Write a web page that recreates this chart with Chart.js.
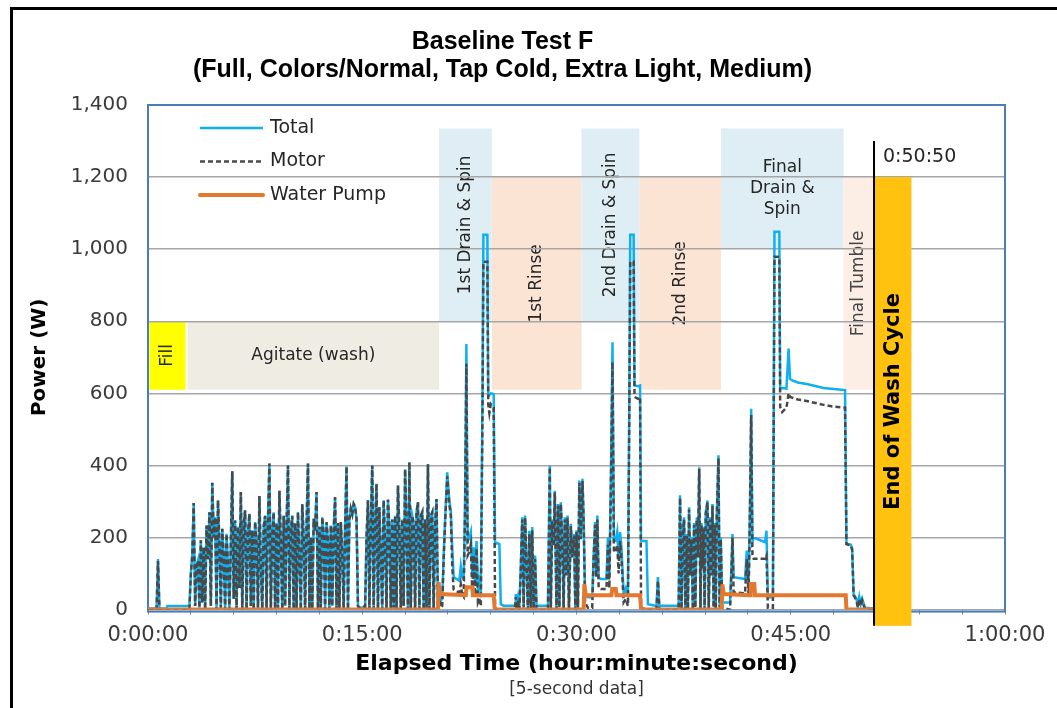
<!DOCTYPE html>
<html>
<head>
<meta charset="utf-8">
<title>Baseline Test F</title>
<script src="https://cdn.jsdelivr.net/npm/chart.js@4.4.1/dist/chart.umd.min.js"></script>
<style>
  html, body { margin: 0; padding: 0; background: #fff; overflow: hidden; }
  #wrap { position: relative; width: 1057px; height: 708px; }
  #frame { position: absolute; left: 10px; top: 7px; width: 1100px; height: 800px;
           border-top: 3px solid #000; border-left: 3px solid #000; pointer-events: none; }
</style>
</head>
<body>
<div id="wrap">
  <canvas id="washChart"></canvas>
  <div id="frame"></div>
</div>
<script>
// elapsed time (minutes) shared by Total and Motor
const elapsedMin = [
  0, 0.6, 0.7, 0.8, 1.3, 1.35, 2.9,
  3.0, 3.1, 3.2, 3.3, 3.4, 3.5, 3.6, 3.7, 3.8, 3.9,
  4.0, 4.1, 4.2, 4.3, 4.4, 4.5, 4.6, 4.7, 4.8, 4.9,
  5.0, 5.1, 5.2, 5.3, 5.4, 5.5, 5.6, 5.7, 5.8, 5.9,
  6.0, 6.1, 6.2, 6.3, 6.4, 6.5, 6.6, 6.7, 6.8, 6.9,
  7.0, 7.1, 7.2, 7.3, 7.4, 7.5, 7.6, 7.7, 7.8, 7.9,
  8.0, 8.1, 8.2, 8.3, 8.4, 8.5, 8.6, 8.7, 8.8, 8.9,
  9.0, 9.1, 9.2, 9.3, 9.4, 9.5, 9.6, 9.7, 9.8, 9.9,
  10.0, 10.1, 10.2, 10.3, 10.4, 10.5, 10.6, 10.7, 10.8, 10.9,
  11.0, 11.1, 11.2, 11.3, 11.4, 11.5, 11.6, 11.7, 11.8, 11.9,
  12.0, 12.1, 12.2, 12.3, 12.4, 12.5, 12.6, 12.7, 12.8, 12.9,
  13.0, 13.1, 13.2, 13.3, 13.4, 13.5, 13.6, 13.7, 13.8, 13.9,
  14.0, 14.1, 14.2, 14.3, 14.4, 14.5, 14.6, 14.7, 14.8, 14.9,
  15.0, 15.1, 15.2, 15.3, 15.4, 15.5, 15.6, 15.7, 15.8, 15.9,
  16.0, 16.1, 16.2, 16.3, 16.4, 16.5, 16.6, 16.7, 16.8, 16.9,
  17.0, 17.1, 17.2, 17.3, 17.4, 17.5, 17.6, 17.7, 17.8, 17.9,
  18.0, 18.1, 18.2, 18.3, 18.4, 18.5, 18.6, 18.7, 18.8, 18.9,
  19.0, 19.1, 19.2, 19.3, 19.4, 19.5, 19.6, 19.7, 19.8, 19.9,
  20.0, 20.1, 20.2, 20.3,
  20.4, 20.5, 20.6, 20.7, 20.8, 20.95, 21.1, 21.2, 21.3, 21.4,
  21.6, 21.8, 21.9, 22.0, 22.1, 22.2, 22.29, 22.38, 22.5, 22.6,
  22.7, 22.8, 22.9, 23.0, 23.1, 23.2, 23.3, 23.42, 23.48, 23.76,
  23.82, 23.9, 24.0, 24.2, 24.3, 24.4, 24.6, 24.7, 24.9, 25.7,
  25.75, 25.8, 25.9, 26.0, 26.1, 26.2, 26.3, 26.4, 26.5, 26.6,
  26.7, 26.8, 26.9, 27.0, 27.1, 27.2, 28.0, 28.13, 28.2, 28.3,
  28.4, 28.48, 28.6, 28.71, 28.8, 28.9, 29.0, 29.1, 29.18, 29.28,
  29.37, 29.47, 29.6, 29.7, 29.83, 29.92, 30.0, 30.1, 30.2, 30.3,
  30.42, 30.5, 30.6, 30.8, 31.1, 31.2, 31.3, 31.38, 31.46, 31.55,
  31.7, 32.1, 32.2, 32.3, 32.42, 32.52, 32.62, 32.75, 32.85, 32.95,
  33.05, 33.15, 33.3, 33.45, 33.6, 33.7, 33.76, 34.0, 34.06, 34.3,
  34.45, 34.52, 34.9, 35.0, 35.6, 35.7, 35.8, 37.15, 37.25, 37.35,
  37.45, 37.53, 37.62, 37.72, 37.8, 37.88, 37.97, 38.05, 38.15, 38.23,
  38.32, 38.42, 38.5, 38.59, 38.68, 38.75, 38.82, 38.89, 38.97, 39.05,
  39.17, 39.26, 39.36, 39.44, 39.52, 39.6, 39.68, 39.75, 39.82, 39.94,
  40.02, 40.1, 40.2, 40.75, 40.85, 40.92, 41.0, 41.8, 41.92, 42.05,
  42.15, 42.23, 42.32, 42.4, 43.2, 43.3, 43.4, 43.75, 43.86, 44.2,
  44.26, 44.4, 44.7, 44.85, 44.95, 45.1, 45.5, 46.2, 47.3, 48.0,
  48.8, 48.9, 49.2, 49.3, 49.4, 49.6, 49.7, 49.8, 49.9, 50.0,
  50.2, 50.8
];

const totalW = [
  3, 3, 140, 3, 3, 10, 10,
  100, 150, 296, 10, 120, 136, 5, 192, 20, 173,
  0, 233, 140, 270, 10, 352, 200, 256, 0, 303,
  180, 5, 224, 150, 0, 210, 120, 0, 180, 384,
  30, 247, 0, 230, 60, 326, 0, 240, 275, 0,
  210, 266, 10, 220, 0, 243, 180, 5, 315, 120,
  0, 230, 260, 0, 250, 405, 0, 210, 270, 0,
  240, 5, 330, 180, 0, 260, 10, 230, 400, 0,
  220, 260, 0, 240, 0, 270, 140, 0, 292, 200,
  0, 230, 405, 0, 200, 0, 252, 220, 326, 0,
  230, 5, 256, 210, 0, 243, 190, 0, 233, 10,
  220, 312, 0, 240, 0, 243, 160, 0, 230, 397,
  0, 250, 280, 265, 293, 285, 252, 10, 5, 5,
  5, 8, 8, 200, 303, 0, 240, 400, 0, 230,
  349, 0, 284, 150, 0, 303, 180, 0, 305, 230,
  0, 250, 5, 260, 0, 344, 220, 0, 250, 10,
  389, 230, 0, 409, 0, 260, 240, 0, 270, 298,
  0, 260, 270, 0, 250, 5, 403, 0, 260, 270,
  0, 230, 307, 10,
  60, 25, 30, 150, 250, 381, 300, 275, 173, 90,
  85, 80, 120, 90, 85, 300, 737, 190, 200, 215,
  95, 173, 71, 190, 60, 80, 40, 600, 1040, 1040,
  600, 595, 600, 598, 182, 185, 182, 15, 11, 11,
  43, 11, 34, 11, 120, 256, 10, 261, 130, 0,
  219, 10, 229, 0, 150, 11, 11, 400, 0, 250,
  180, 330, 0, 293, 10, 298, 200, 0, 256, 100,
  261, 0, 238, 150, 210, 0, 220, 10, 358, 200,
  363, 250, 40, 34, 34, 150, 243, 100, 261, 90,
  85, 85, 200, 90, 400, 742, 191, 191, 215, 136,
  215, 173, 43, 60, 40, 600, 1040, 1040, 622, 620,
  622, 190, 190, 15, 10, 90, 11, 11, 317, 0,
  220, 256, 0, 210, 5, 284, 100, 200, 0, 240,
  10, 256, 150, 395, 0, 240, 120, 230, 0, 270,
  303, 0, 256, 100, 293, 10, 240, 0, 260, 428,
  10, 200, 20, 20, 120, 210, 90, 85, 164, 60,
  300, 557, 190, 200, 187, 219, 34, 34, 1048, 1048,
  613, 615, 613, 724, 640, 636, 630, 625, 615, 612,
  609, 182, 180, 170, 43, 30, 10, 35, 15, 30,
  5, 3
];

const motorW = [
  0, 0, 135, 0, 0, 0, 0,
  100, 150, 296, 10, 120, 136, 5, 192, 20, 173,
  0, 233, 140, 270, 10, 352, 200, 256, 0, 303,
  180, 5, 224, 150, 0, 210, 120, 0, 180, 384,
  30, 247, 0, 230, 60, 326, 0, 240, 275, 0,
  210, 266, 10, 220, 0, 243, 180, 5, 315, 120,
  0, 230, 260, 0, 250, 405, 0, 210, 270, 0,
  240, 5, 330, 180, 0, 260, 10, 230, 400, 0,
  220, 260, 0, 240, 0, 270, 140, 0, 292, 200,
  0, 230, 405, 0, 200, 0, 252, 220, 326, 0,
  230, 5, 256, 210, 0, 243, 190, 0, 233, 10,
  220, 312, 0, 240, 0, 243, 160, 0, 230, 397,
  0, 250, 280, 265, 293, 285, 252, 10, 5, 5,
  5, 8, 8, 200, 303, 0, 240, 400, 0, 230,
  349, 0, 284, 150, 0, 303, 180, 0, 305, 230,
  0, 250, 5, 260, 0, 344, 220, 0, 250, 10,
  389, 230, 0, 409, 0, 260, 240, 0, 270, 298,
  0, 260, 270, 0, 250, 5, 403, 0, 260, 270,
  0, 230, 307, 10,
  30, 5, 10, 140, 240, 370, 290, 260, 120, 55,
  50, 48, 70, 40, 35, 280, 682, 150, 160, 180,
  50, 150, 40, 170, 20, 30, 10, 550, 965, 965,
  570, 545, 570, 560, 5, 0, 0, 0, 0, 0,
  35, 0, 25, 0, 110, 250, 5, 255, 120, 0,
  210, 0, 220, 0, 140, 0, 0, 395, 0, 245,
  175, 325, 0, 288, 5, 293, 195, 0, 250, 95,
  255, 0, 232, 145, 205, 0, 215, 5, 352, 195,
  357, 245, 20, 5, 5, 140, 235, 90, 250, 60,
  57, 57, 180, 60, 380, 687, 160, 160, 180, 100,
  190, 140, 20, 30, 10, 560, 965, 965, 590, 585,
  590, 5, 0, 0, 0, 80, 0, 0, 310, 0,
  215, 250, 0, 205, 0, 278, 95, 195, 0, 235,
  5, 250, 145, 390, 0, 235, 115, 225, 0, 265,
  298, 0, 250, 95, 288, 5, 235, 0, 255, 420,
  5, 195, 5, 0, 110, 200, 48, 45, 140, 40,
  290, 540, 145, 141, 141, 150, 5, 5, 979, 979,
  562, 548, 560, 600, 590, 588, 583, 578, 568, 563,
  560, 182, 178, 165, 40, 25, 5, 30, 10, 25,
  0, 0
];

const pumpMin = [0, 20.3, 20.35, 20.42, 22.25, 22.3, 22.7, 22.75, 24.2, 24.28,
                 30.5, 30.55, 30.65, 32.45, 32.5, 32.75, 32.8, 34.45, 34.52,
                 40.15, 40.22, 40.3, 42.15, 42.2, 42.45, 42.5, 48.85, 48.9, 50.8];
const pumpW = [0, 0, 76, 43, 40, 62, 62, 40, 40, 0,
               0, 71, 40, 40, 57, 57, 40, 40, 0,
               0, 70, 43, 40, 71, 71, 40, 40, 0, 0];

const xTickLabels = ['0:00:00', '0:15:00', '0:30:00', '0:45:00', '1:00:00'];

// shaded phases: time span (min) and power span (W)
const phaseNames = ['Fill', 'Agitate (wash)', '1st Drain & Spin', '1st Rinse', '2nd Drain & Spin',
                    '2nd Rinse', 'Final\nDrain &\nSpin', 'Final Tumble', 'End of Wash Cycle'];
const phaseStartMin = [0.1, 2.77, 20.38, 24.07, 30.36, 34.4, 40.12, 48.7, 50.83];
const phaseEndMin = [2.63, 20.38, 24.07, 30.36, 34.4, 40.12, 48.7, 50.83, 53.45];
const phaseLowW = [610, 610, 800, 610, 800, 610, 1000, 610, -45];
const phaseHighW = [800, 800, 1335, 1200, 1335, 1200, 1335, 1200, 1200];

const cycleEndMin = 50.83;
const cycleEndLabel = '0:50:50';

// styles for the phase boxes
const phaseFill = ['#ffff00', '#eeece3', '#deeef4', '#fce4d5', '#deeef4', '#fce4d5', '#deeef4', '#fdeee5', '#ffc20e'];
const phaseVertical = [true, false, true, true, true, true, false, true, true];

function toPoints(xs, ys) {
    return xs.map((v, i) => ({ x: v, y: ys[i] }));
}

function drawText(ctx, text, cx, cy, vertical, font, color) {
    ctx.save();
    ctx.translate(cx, cy);
    if (vertical) ctx.rotate(-Math.PI / 2);
    ctx.font = font;
    ctx.fillStyle = color;
    ctx.textAlign = "center";
    ctx.textBaseline = "middle";
    const lines = text.split("\n");
    lines.forEach((ln, i) => ctx.fillText(ln, 0, (i - (lines.length - 1) / 2) * 21));
    ctx.restore();
}

const washPhases = {
    id: "washPhases",
    beforeDraw(chart) {
        const { ctx, scales: { x, y } } = chart;
        for (let i = 0; i < phaseNames.length - 1; i++) {
            const x1 = x.getPixelForValue(phaseStartMin[i]);
            const x2 = x.getPixelForValue(phaseEndMin[i]);
            const y1 = y.getPixelForValue(phaseHighW[i]);
            const y2 = y.getPixelForValue(phaseLowW[i]);
            ctx.save();
            ctx.fillStyle = phaseFill[i];
            ctx.fillRect(x1, y1, x2 - x1, y2 - y1);
            ctx.restore();
            drawText(ctx, phaseNames[i], (x1 + x2) / 2, (y1 + y2) / 2, phaseVertical[i],
                '17px "DejaVu Sans"', i === 7 ? "#444" : "#262626");
        }
    },
    beforeDatasetsDraw(chart) {
        const { ctx, chartArea: a } = chart;
        ctx.save();
        ctx.strokeStyle = "#4a7ebb";
        ctx.lineWidth = 2;
        ctx.strokeRect(a.left, a.top, a.right - a.left, a.bottom - a.top + 2);
        ctx.restore();
    },
    afterDatasetsDraw(chart) {
        const { ctx, chartArea: a, scales: { x, y } } = chart;
        const k = phaseNames.length - 1;
        const x1 = x.getPixelForValue(phaseStartMin[k]);
        const x2 = x.getPixelForValue(phaseEndMin[k]);
        const y1 = y.getPixelForValue(phaseHighW[k]);
        const y2 = y.getPixelForValue(phaseLowW[k]);
        ctx.save();
        ctx.fillStyle = phaseFill[k];
        ctx.fillRect(x1, y1, x2 - x1, y2 - y1);
        ctx.restore();
        drawText(ctx, phaseNames[k], (x1 + x2) / 2 + 1, (y1 + y2) / 2, true, 'bold 21px "DejaVu Sans"', "#000");

        // end of cycle marker
        const xe = x.getPixelForValue(cycleEndMin);
        ctx.save();
        ctx.strokeStyle = "#000";
        ctx.lineWidth = 2;
        ctx.beginPath();
        ctx.moveTo(xe, y.getPixelForValue(1300));
        ctx.lineTo(xe, y.getPixelForValue(-45));
        ctx.stroke();
        ctx.font = '19px "DejaVu Sans"';
        ctx.fillStyle = "#262626";
        ctx.textAlign = "left";
        ctx.textBaseline = "middle";
        ctx.fillText(cycleEndLabel, xe + 9, y.getPixelForValue(1256));

        // legend inside the plot
        const lx = a.left + 52;
        const ly = a.top + 23;
        ctx.font = '19px "DejaVu Sans"';
        chart.data.datasets.forEach((ds, i) => {
            const yy = ly + i * 33.5;
            ctx.beginPath();
            ctx.strokeStyle = ds.borderColor;
            ctx.lineWidth = ds.borderWidth;
            ctx.lineCap = i === 2 ? "round" : "butt";
            ctx.setLineDash(ds.borderDash || []);
            ctx.moveTo(lx, yy);
            ctx.lineTo(lx + 63, yy);
            ctx.stroke();
            ctx.setLineDash([]);
            ctx.fillStyle = "#262626";
            ctx.fillText(ds.label, lx + 70, yy);
        });
        ctx.restore();
    }
};

new Chart(document.getElementById("washChart"), {
    type: "line",
    data: {
        datasets: [
            {
                label: "Total",
                data: toPoints(elapsedMin, totalW),
                borderColor: "#0fb0f0",
                borderWidth: 2.5,
                order: 3,
            },
            {
                label: "Motor",
                data: toPoints(elapsedMin, motorW),
                borderColor: "#484848",
                borderWidth: 2.5,
                borderDash: [5, 3],
                order: 2,
            },
            {
                label: "Water Pump",
                data: toPoints(pumpMin, pumpW),
                borderColor: "#e3782e",
                borderWidth: 4,
                order: 1,
            },
        ],
    },
    options: {
        responsive: true,
        maintainAspectRatio: false,
        animation: false,
        events: [],
        elements: { point: { radius: 0 }, line: { tension: 0 } },
        layout: { padding: { left: 0, right: 52, top: 0, bottom: 0 } },
        plugins: {
            legend: { display: false },
            tooltip: { enabled: false },
            title: {
                display: true,
                text: ["Baseline Test F", "(Full, Colors/Normal, Tap Cold, Extra Light, Medium)"],
                color: "#000",
                font: { family: "Liberation Sans", size: 25, weight: "bold", lineHeight: 1.12 },
                padding: { top: 28, bottom: 21 },
            },
            subtitle: {
                display: true,
                text: "[5-second data]",
                position: "bottom",
                fullSize: false,
                color: "#333",
                font: { family: "DejaVu Sans", size: 17, lineHeight: 1.2 },
                padding: { top: 0, bottom: 8 },
            },
        },
        scales: {
            x: {
                type: "linear",
                min: 0,
                max: 60,
                afterFit: (scale) => { scale.height = 70; },
                border: { display: false },
                grid: { drawOnChartArea: false, drawTicks: true, tickLength: 5, color: "#8c8c8c" },
                ticks: {
                    stepSize: 3,
                    autoSkip: false,
                    maxRotation: 0,
                    padding: 8,
                    color: "#3a3a3a",
                    font: { family: "DejaVu Sans", size: 21 },
                    callback: (v) => (v % 15 === 0 ? xTickLabels[v / 15] : ""),
                },
                title: {
                    display: true,
                    text: "Elapsed Time (hour:minute:second)",
                    color: "#000",
                    font: { family: "DejaVu Sans", size: 22, weight: "bold", lineHeight: 1.2 },
                    padding: { top: 0, bottom: 2 },
                },
            },
            y: {
                min: 0,
                max: 1400,
                afterFit: (scale) => { scale.width = 148; },
                border: { display: false },
                grid: { color: "#a6a6a6", lineWidth: 1.5, drawTicks: false },
                ticks: {
                    stepSize: 200,
                    padding: 20,
                    color: "#3a3a3a",
                    font: { family: "DejaVu Sans", size: 20 },
                },
                title: {
                    display: true,
                    text: "Power (W)",
                    color: "#000",
                    font: { family: "DejaVu Sans", size: 20, weight: "bold", lineHeight: 1.2 },
                    padding: { top: 28, bottom: 0 },
                },
            },
        },
    },
    plugins: [washPhases],
});
</script>
</body>
</html>
